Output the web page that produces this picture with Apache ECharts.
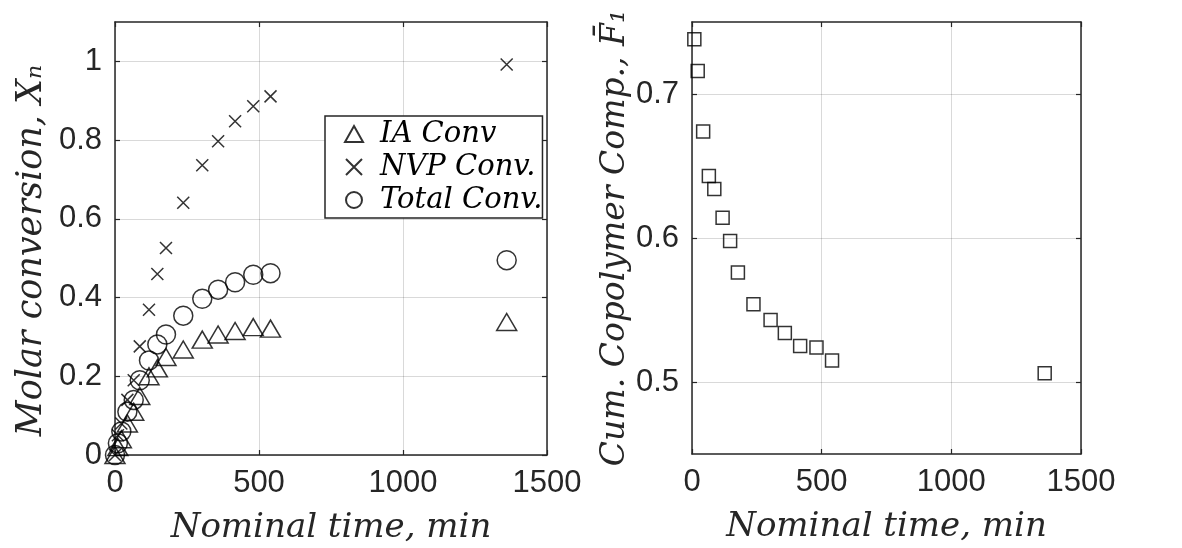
<!DOCTYPE html>
<html>
<head>
<meta charset="utf-8">
<script src="https://cdn.jsdelivr.net/npm/echarts@6/dist/echarts.min.js"></script>
<style>
html,body{margin:0;padding:0;background:#fff;}
#main{width:1182px;height:548px;}
</style>
</head>
<body>
<div id="main"></div>
<script>
// left panel: conversions vs nominal time
var time_conv = [0, 10, 22, 43, 65, 86, 118, 147, 177, 237, 303, 358, 417, 480, 540, 1360];
var ia_conv = [0, 0.02, 0.04, 0.08, 0.11, 0.15, 0.2, 0.22, 0.249, 0.268, 0.293, 0.306, 0.315, 0.325, 0.321, 0.338];
var nvp_conv = [0, 0.05, 0.08, 0.14, 0.19, 0.276, 0.369, 0.46, 0.526, 0.641, 0.736, 0.797, 0.848, 0.886, 0.911, 0.992];
var total_conv = [0, 0.03, 0.06, 0.11, 0.14, 0.19, 0.24, 0.281, 0.306, 0.354, 0.397, 0.42, 0.439, 0.458, 0.462, 0.495];

// right panel: cumulative copolymer composition
var time_comp = [9, 22, 43, 65, 86, 118, 147, 177, 237, 303, 358, 417, 480, 540, 1360];
var f1_comp = [0.738, 0.716, 0.674, 0.643, 0.634, 0.614, 0.598, 0.576, 0.554, 0.543, 0.534, 0.525, 0.524, 0.515, 0.506];

var x_ticks = [0, 500, 1000, 1500];
var y_ticks_conv = [0, 0.2, 0.4, 0.6, 0.8, 1];
var y_ticks_comp = [0.5, 0.6, 0.7];

var axisColor = '#262626';
var serif = '"DejaVu Serif", serif';

function pairs(xs, ys){
    return xs.map(function(x, i){ return [x, ys[i]]; });
}

function makeAxis(pos, grid, min, max, ticks, labels){
    return {
        type: 'value',
        gridIndex: grid,
        position: pos,
        min: min,
        max: max,
        axisLine: { show: true, onZero: false, lineStyle: { color: axisColor, width: 1.5 } },
        axisTick: { show: true, inside: true, length: 5, customValues: ticks, lineStyle: { color: axisColor, width: 1.2 } },
        axisLabel: { show: labels, customValues: ticks, color: axisColor, fontSize: 31, margin: 13,
            fontFamily: '"Liberation Sans", Arial, sans-serif',
            formatter: function(v){ return String(v); } },
        splitLine: { show: labels, lineStyle: { color: 'rgba(0,0,0,0.15)', width: 1 } }
    };
}

var hollow = { color: 'rgba(0,0,0,0)', borderColor: '#000', borderWidth: 1.5 };

var myChart = echarts.init(document.getElementById('main'));

var xl = makeAxis('bottom', 0, 0, 1500, x_ticks, true);
xl.name = 'Nominal time, min';
xl.nameLocation = 'middle';
xl.nameGap = 56;
xl.nameTextStyle = { fontFamily: serif, fontStyle: 'italic', fontSize: 34, color: axisColor };

var xr = makeAxis('bottom', 1, 0, 1500, x_ticks, true);
xr.name = 'Nominal time, min';
xr.nameLocation = 'middle';
xr.nameGap = 56;
xr.nameTextStyle = { fontFamily: serif, fontStyle: 'italic', fontSize: 34, color: axisColor };

var yl = makeAxis('left', 0, 0, 1.1, y_ticks_conv, true);
yl.name = 'Molar conversion, X\u2099';
yl.nameLocation = 'middle';
yl.nameGap = 66;
yl.nameTextStyle = { fontFamily: serif, fontStyle: 'italic', fontSize: 35, color: axisColor, padding: [0, 24, 0, 0] };

var yr = makeAxis('left', 1, 0.45, 0.75, y_ticks_comp, true);
yr.name = 'Cum. Copolymer Comp., F\u0304\u2081';
yr.nameLocation = 'middle';
yr.nameGap = 60;
yr.nameTextStyle = { fontFamily: serif, fontStyle: 'italic', fontSize: 33, color: axisColor };

var option = {
    animation: false,
    backgroundColor: '#fff',
    grid: [
        { left: 115, right: 635, top: 22, bottom: 93, outerBoundsMode: 'none' },
        { left: 692, right: 101, top: 22, bottom: 94, outerBoundsMode: 'none' }
    ],
    legend: {
        left: 325,
        top: 116,
        orient: 'vertical',
        backgroundColor: '#fff',
        borderColor: axisColor,
        borderWidth: 1.5,
        padding: [2, 0, 2, 19],
        itemGap: 1,
        itemWidth: 18,
        itemHeight: 16,
        textStyle: { fontFamily: serif, fontStyle: 'italic', fontSize: 29, color: '#000', lineHeight: 32, padding: [0, 0, 0, 12] },
        data: ['IA Conv', 'NVP Conv.', 'Total Conv.']
    },
    xAxis: [
        xl,
        makeAxis('top', 0, 0, 1500, x_ticks, false),
        xr,
        makeAxis('top', 1, 0, 1500, x_ticks, false)
    ],
    yAxis: [
        yl,
        makeAxis('right', 0, 0, 1.1, y_ticks_conv, false),
        yr,
        makeAxis('right', 1, 0.45, 0.75, y_ticks_comp, false)
    ],
    series: [
        {
            name: 'IA Conv',
            type: 'scatter',
            xAxisIndex: 0, yAxisIndex: 0,
            symbol: 'triangle',
            symbolSize: [20, 17],
            itemStyle: hollow,
            data: pairs(time_conv, ia_conv)
        },
        {
            name: 'NVP Conv.',
            type: 'scatter',
            xAxisIndex: 0, yAxisIndex: 0,
            symbol: 'path://M0,0L10,10M10,0L0,10',
            symbolSize: 12,
            itemStyle: hollow,
            data: pairs(time_conv, nvp_conv)
        },
        {
            name: 'Total Conv.',
            type: 'scatter',
            xAxisIndex: 0, yAxisIndex: 0,
            symbol: 'circle',
            symbolSize: 19,
            itemStyle: hollow,
            data: pairs(time_conv, total_conv)
        },
        {
            name: 'F1',
            type: 'scatter',
            xAxisIndex: 2, yAxisIndex: 2,
            symbol: 'rect',
            symbolSize: 13,
            itemStyle: hollow,
            data: pairs(time_comp, f1_comp)
        }
    ]
};

myChart.setOption(option);
</script>
</body>
</html>
